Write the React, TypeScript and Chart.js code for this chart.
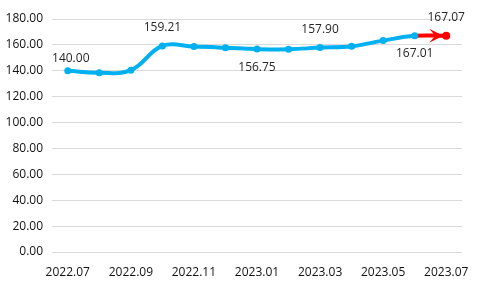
import React, { useEffect, useRef } from 'react';
import { Chart, registerables } from 'chart.js';

Chart.register(...registerables);

const months = ['2022.07', '2022.08', '2022.09', '2022.10', '2022.11', '2022.12', '2023.01', '2023.02', '2023.03', '2023.04', '2023.05', '2023.06', '2023.07'];
const prices = [140.0, 138.5, 140.5, 159.21, 158.7, 157.8, 156.75, 156.6, 157.9, 158.9, 163.3, 167.01, 167.07];
const labeledIndices = [0, 3, 6, 8, 11, 12];
const labelSides = ['above', 'above', 'below', 'above', 'below', 'above'];
const yTickMin = 0;
const yTickMax = 180;
const yTickStep = 20;

const BLUE = '#00B0F0';
const RED = '#FF0000';
const FONT = "'Open Sans', 'Liberation Sans', Arial, sans-serif";

const labelsPlugin = {
  id: 'valueLabels',
  afterDatasetsDraw(chart: any) {
    const meta = chart.getDatasetMeta(0);
    const ctx = chart.ctx;
    const last = prices.length - 1;
    const p = meta.data[last];
    if (p) {
      const x = p.x;
      const y = p.y;
      ctx.save();
      ctx.fillStyle = RED;
      ctx.beginPath();
      ctx.moveTo(x - 3, y);
      ctx.lineTo(x - 17, y - 7);
      ctx.lineTo(x - 11, y);
      ctx.lineTo(x - 17, y + 7);
      ctx.closePath();
      ctx.fill();
      ctx.beginPath();
      ctx.arc(x, y, 4, 0, Math.PI * 2);
      ctx.fill();
      ctx.restore();
    }
    ctx.save();
    ctx.font = `12px ${FONT}`;
    ctx.fillStyle = '#262626';
    ctx.textAlign = 'center';
    ctx.textBaseline = 'middle';
    labeledIndices.forEach((idx, k) => {
      const el = meta.data[idx];
      if (!el) return;
      const side = labelSides[k];
      let dx = 0;
      let dy = side === 'above' ? -18 : 18;
      if (idx === 0) {
        dx = 3;
        dy = -12;
      }
      ctx.fillText(prices[idx].toFixed(2), el.x + dx, el.y + dy);
    });
    ctx.restore();
  },
};

export default function App() {
  const ref = useRef<HTMLCanvasElement | null>(null);
  useEffect(() => {
    if (!ref.current) return;
    const last = prices.length - 1;
    const chart = new Chart(ref.current, {
      type: 'line',
      data: {
        labels: months,
        datasets: [
          {
            data: prices,
            borderColor: BLUE,
            borderWidth: 4,
            tension: 0.4,
            pointRadius: prices.map((_, i) => (i === last ? 0 : 3.5)),
            pointBackgroundColor: BLUE,
            pointBorderColor: BLUE,
            pointBorderWidth: 0,
            segment: {
              borderColor: (c: any) => (c.p1DataIndex === last ? RED : BLUE),
            },
            fill: false,
          },
        ],
      },
      options: {
        animation: false,
        responsive: false,
        maintainAspectRatio: false,
        layout: { padding: { top: 19, right: 18, left: 0, bottom: 0 } },
        plugins: {
          legend: { display: false },
          tooltip: { enabled: false },
        },
        scales: {
          x: {
            offset: true,
            grid: { display: false },
            border: { display: false },
            ticks: {
              autoSkip: false,
              maxRotation: 0,
              padding: 5,
              color: '#111',
              font: { family: FONT, size: 12 },
              callback: (_v: any, i: number) => (i % 2 === 0 ? months[i] : ''),
            },
            afterFit: (s: any) => {
              s.height = 36;
            },
          },
          y: {
            min: yTickMin,
            max: yTickMax,
            grid: { color: '#d9d9d9', drawTicks: false, lineWidth: 1 },
            border: { display: false },
            ticks: {
              stepSize: yTickStep,
              padding: 9,
              color: '#111',
              font: { family: FONT, size: 12 },
              callback: (v: any) => Number(v).toFixed(2),
            },
            afterFit: (s: any) => {
              s.width = 52;
            },
          },
        },
      },
      plugins: [labelsPlugin],
    });
    return () => chart.destroy();
  }, []);
  return (
    <div style={{ position: 'fixed', left: 0, top: 0, width: 480, height: 288, background: '#fff' }}>
      <canvas ref={ref} width={480} height={288} />
    </div>
  );
}
